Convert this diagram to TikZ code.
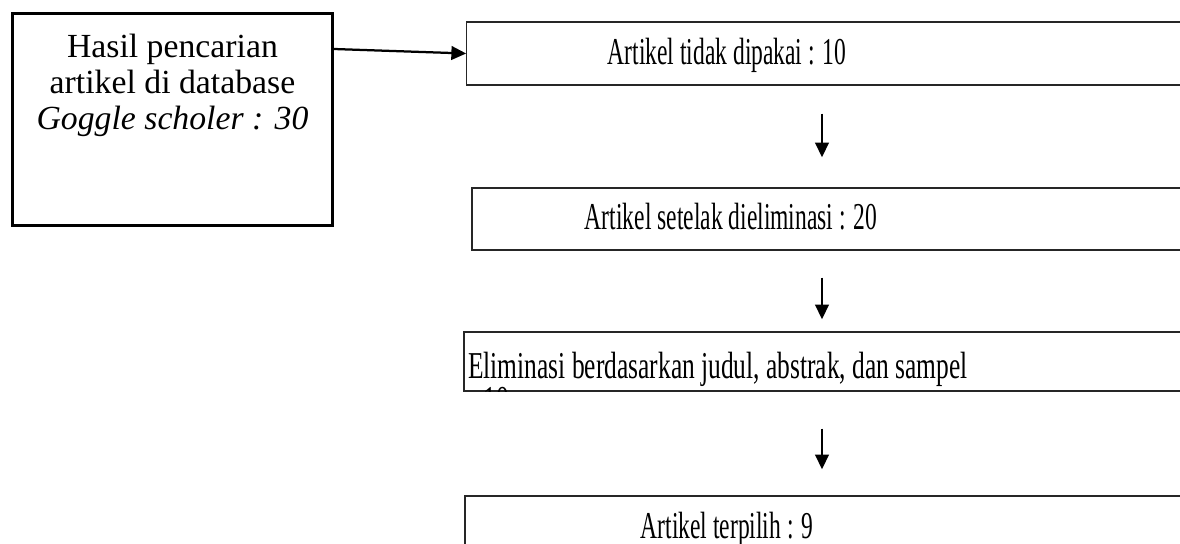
\documentclass[tikz,border=0pt]{standalone}
\usepackage{fontspec}
\setmainfont{Liberation Serif}
\newfontfamily\narrowserif[FakeStretch=0.62]{Liberation Serif}
\newfontfamily\wideserif[FakeStretch=0.67]{Liberation Serif}
\usetikzlibrary{arrows.meta}

\tikzset{
	bigbox/.style={draw, line width=2.1pt, minimum width=8cm, minimum height=5.3cm, inner sep=0pt},
	stagebox/.style={draw=black!85, line width=0.9pt, inner sep=0pt},
	stagetext/.style={font=\narrowserif\fontsize{27}{26}\selectfont, inner sep=0pt},
	flowarrow/.style={-{Triangle[length=0.37cm,width=0.34cm]}, line width=1.6pt}
}

\begin{document}
\begin{tikzpicture}[x=0.025cm, y=-0.025cm]
		\useasboundingbox (0,0) rectangle (1180,544);
		\clip (0,0) rectangle (1180,544);
		
		% search result
		\node[bigbox] (hasil) at (172.5,119.5) {};
		\node[anchor=north, align=center, inner sep=0pt, font=\fontsize{24}{25.6}\selectfont] (hasiltext) at (172.5,34) {Hasil pencarian\\artikel di database\\\textit{Goggle scholer : 30}};
		
		% stages
		\node[stagebox, minimum width=18.33cm, minimum height=1.575cm] (tidak) at (833.5,53.5) {};
		\node[stagebox, minimum width=18.2cm, minimum height=1.55cm] (setelah) at (836,219) {};
		\node[stagebox, minimum width=18.4cm, minimum height=1.475cm] (elim) at (832,361.5) {};
		\node[stagebox, minimum width=18.375cm, minimum height=2.6cm] (pilih) at (832.5,548) {};
		
		% stage texts
		\node[stagetext, anchor=base] (tidaktext) at (727,65) {Artikel tidak dipakai : 10};
		\node[stagetext, anchor=base] (setelahtext) at (731,230) {Artikel setelak dieliminasi : 20};
		\begin{scope}
			\clip (elim.south west) rectangle (elim.north east);
			\node[stagetext, font=\wideserif\fontsize{27}{24}\selectfont, anchor=north west, align=left] (elimtext) at (468,352) {Eliminasi berdasarkan judul, abstrak, dan sampel\\: 10};
		\end{scope}
		\node[stagetext, anchor=base] (pilihtext) at (727,538) {Artikel terpilih : 9};
		
		% arrows
		\coordinate (axis) at (822,0);
		\draw[flowarrow] ([yshift=-0.925cm]hasil.north east) -- (tidak.west);
		\draw[flowarrow, shorten <=0.7cm, shorten >=0.75cm] (tidak.south -| axis) -- (setelah.north -| axis);
		\draw[flowarrow, shorten <=0.675cm, shorten >=0.3cm] (setelah.south -| axis) -- (elim.north -| axis);
		\draw[flowarrow, shorten <=0.925cm, shorten >=0.65cm] (elim.south -| axis) -- (pilih.north -| axis);
	\end{tikzpicture}
\end{document}
